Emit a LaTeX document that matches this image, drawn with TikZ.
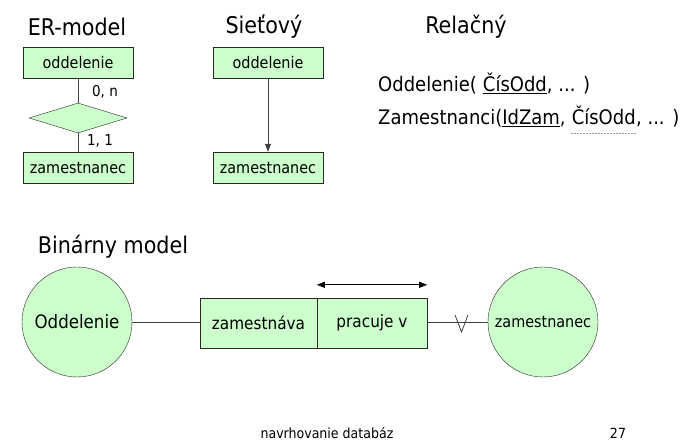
\documentclass[tikz,border=0pt]{standalone}
\usepackage{fontspec}
\setmainfont{DejaVu Sans Condensed}
\usepackage{xcolor}
\usetikzlibrary{shapes.geometric,arrows.meta,positioning}

\definecolor{boxgreen}{HTML}{CCFFCC}

\begin{document}
\begin{tikzpicture}[x=1pt,y=-1pt,
  title/.style={font=\fontsize{23}{26}\selectfont,inner sep=0pt},
  entity/.style={draw=black!85,fill=boxgreen,minimum width=110pt,minimum height=31pt,
    inner sep=0pt,font=\fontsize{16}{18}\selectfont},
  relbox/.style={draw=black!85,fill=boxgreen,minimum height=50pt,inner sep=0pt,
    font=\fontsize{17}{20}\selectfont},
  object/.style={circle,draw=black!85,fill=boxgreen,minimum size=110pt,inner sep=0pt,
    font=\fontsize{16}{18}\selectfont},
  card/.style={font=\fontsize{15}{17}\selectfont,inner sep=0pt},
  rel/.style={font=\fontsize{20}{23}\selectfont,inner sep=0pt,anchor=base west},
  link/.style={draw=black!75,line width=0.8pt},
  foot/.style={font=\fontsize{14}{16}\selectfont,inner sep=0pt}]

  \useasboundingbox (0,0) rectangle (686,443);

  % titles
  \node[title] (ertitle) at (77,27) {ER-model};
  \node[title] (nettitle) at (264,27) {Sieťový};
  \node[title] (reltitle) at (466,27) {Relačný};
  \node[title] (bintitle) at (113,247) {Binárny model};

  % ER model
  \node[entity] (erodd) at (78,62.5) {oddelenie\hspace{8pt}};
  \node[diamond,draw=black!85,fill=boxgreen,minimum width=98pt,minimum height=30pt,
    inner sep=0pt] (erdia) at (78,118) {};
  \node[entity] (erzam) at (78,167.5) {zamestnanec};
  \draw[link] (erodd) -- (erdia);
  \draw[link] (erdia) -- (erzam);
  \node[card] (card1) at (105,92) {0, n};
  \node[card] (card2) at (100,141) {1, 1};

  % network model
  \node[entity] (netodd) at (268,62.5) {oddelenie};
  \node[entity] (netzam) at (268,167.5) {zamestnanec};
  \draw[link,-{Triangle[length=8pt,width=6pt]}] (netodd) -- (netzam);

  % relational model
  \node[rel] (reloddA) at (378,92) {Oddelenie(};
  \node[rel] (reloddB) at (reloddA.base east) {\ \underline{ČísOdd}, ... )};
  \node[rel] (relzamA) at (378,125) {Zamestnanci(\underline{IdZam},};
  \node[rel] (relzamB) at (relzamA.base east) {\ ČísOdd};
  \node[rel] (relzamC) at (relzamB.base east) {, ... )};
  \draw[black!40,dash pattern=on 2pt off 1pt,line width=0.7pt]
    ([xshift=5pt,yshift=-8pt]relzamB.base west) -- ([yshift=-8pt]relzamB.base east);

  % binary model
  \node[object,font=\fontsize{18.5}{21}\selectfont] (binodd) at (77,322) {Oddelenie};
  \node[relbox,minimum width=117pt] (binzv) at (258.5,323) {zamestnáva};
  \node[relbox,minimum width=110pt] (binpv) at (372,323) {pracuje v};
  \node[object] (binzam) at (543,322) {zamestnanec};
  \draw[link] (binodd) -- (binodd -| binzv.west);
  \draw[link] (binpv.east |- binzam) -- (binzam);
  \coordinate (forall) at (461.5,322);
  \draw[link] ([shift={(-6.5,-7)}]forall) -- ([shift={(0,10)}]forall) -- ([shift={(6.5,-7)}]forall);
  \draw[black,line width=0.8pt,{Triangle[length=8pt,width=6pt]}-{Triangle[length=8pt,width=6pt]}]
    ([yshift=13pt]binpv.north west) -- ([yshift=13pt]binpv.north east);

  % footer
  \node[foot] (footer) at (327,433) {navrhovanie databáz};
  \node[foot] (pageno) at (618,433) {27};
\end{tikzpicture}
\end{document}
